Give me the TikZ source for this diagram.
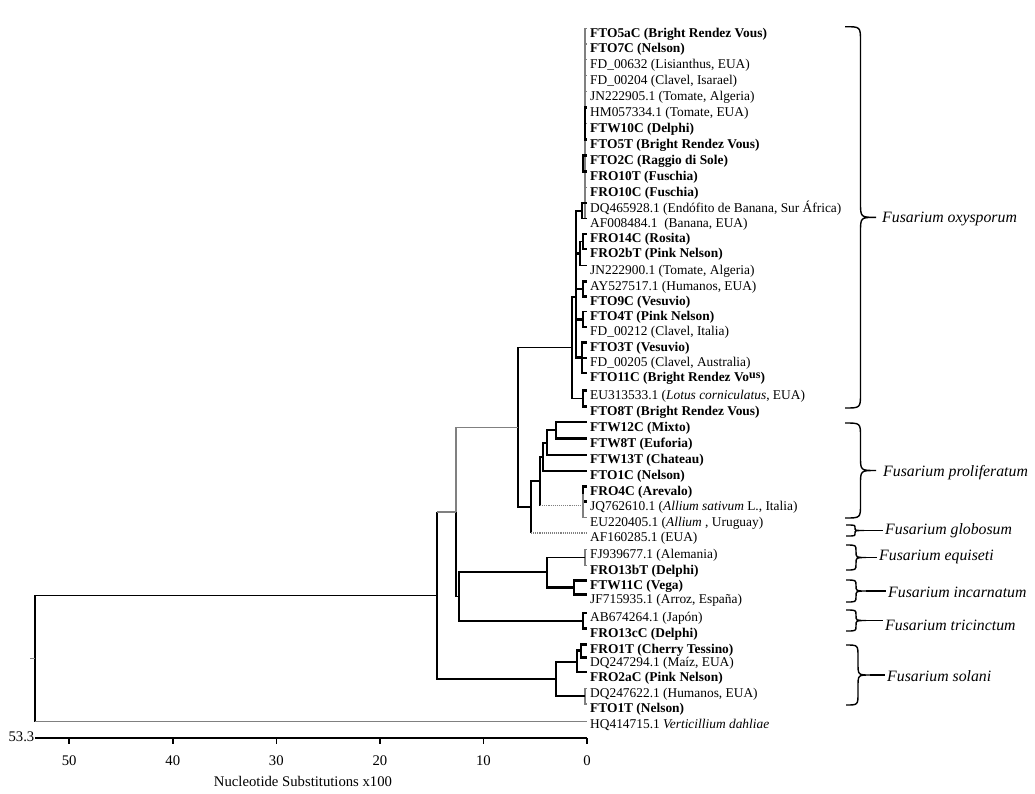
\documentclass[tikz,border=0pt]{standalone}
\usepackage{fontspec}
\setmainfont{Liberation Serif}
\newcommand\myleaf[4][8.8]{\coordinate (L#2) at (587,#3); \node[lab] (T#2) at (590,{#3+#1}) {#4};}
\newcommand\mybrace[6]{%
 \draw[brc] (#2,#3) .. controls ({#2+#5/2},#3) .. ({#2+#5/2},{#3+#6}) -- ({#2+#5/2},{(#3+#4)/2-#6}) .. controls ({#2+#5/2},{(#3+#4)/2}) .. ({#2+#5},{(#3+#4)/2}) .. controls ({#2+#5/2},{(#3+#4)/2}) .. ({#2+#5/2},{(#3+#4)/2+#6}) -- ({#2+#5/2},{#4-#6}) .. controls ({#2+#5/2},#4) .. (#2,#4);
 \coordinate (#1) at ({#2+#5},{(#3+#4)/2});}
\tikzset{
 lab/.style={font=\fontsize{13.4}{14}\selectfont, inner sep=0pt, anchor=base west},
 spl/.style={font=\fontsize{15.8}{18}\selectfont\itshape, inner xsep=2pt, inner ysep=0pt, anchor=west},
 axl/.style={font=\fontsize{14.7}{16}\selectfont, inner sep=0pt},
 br/.style={line width=1.9pt, black},
 nb/.style={line width=1.2pt, black},
 thk/.style={line width=2.8pt, black},
 thn/.style={line width=1.1pt, gray},
 gbr/.style={line width=1.8pt, gray},
 dt/.style={line width=1.1pt, gray, densely dotted},
 brc/.style={line width=1.4pt, black},
}
\begin{document}
\begin{tikzpicture}[x=1pt,y=-1pt]
\useasboundingbox (0,0) rectangle (1035,793);
% leaves
\myleaf{1}{28.4}{\textbf{FTO5aC (Bright Rendez Vous)}}
\myleaf{2}{44}{\textbf{FTO7C (Nelson)}}
\myleaf{3}{59.5}{FD\_00632 (Lisianthus, EUA)}
\myleaf{4}{75.5}{FD\_00204 (Clavel, Isarael)}
\myleaf{5}{91.5}{JN222905.1 (Tomate, Algeria)}
\myleaf{6}{107.4}{HM057334.1 (Tomate, EUA)}
\myleaf{7}{123.4}{\textbf{FTW10C (Delphi)}}
\myleaf{8}{139.5}{\textbf{FTO5T (Bright Rendez Vous)}}
\myleaf{9}{155.3}{\textbf{FTO2C (Raggio di Sole)}}
\myleaf{10}{171.3}{\textbf{FRO10T (Fuschia)}}
\myleaf{11}{187.2}{\textbf{FRO10C (Fuschia)}}
\myleaf{12}{203.2}{DQ465928.1 (Endófito de Banana, Sur África)}
\myleaf{13}{218.5}{AF008484.1\ \ (Banana, EUA)}
\myleaf{14}{234}{\textbf{FRO14C (Rosita)}}
\myleaf{15}{249}{\textbf{FRO2bT (Pink Nelson)}}
\myleaf{16}{265.5}{JN222900.1 (Tomate, Algeria)}
\myleaf{17}{281.5}{AY527517.1 (Humanos, EUA)}
\myleaf{18}{296.4}{\textbf{FTO9C (Vesuvio)}}
\myleaf{19}{311.5}{\textbf{FTO4T (Pink Nelson)}}
\myleaf{20}{326.7}{FD\_00212 (Clavel, Italia)}
\myleaf{21}{342.4}{\textbf{FTO3T (Vesuvio)}}
\myleaf{22}{358}{FD\_00205 (Clavel, Australia)}
\myleaf{23}{373}{\textbf{FTO11C (Bright Rendez Vo\raisebox{3pt}{\fontsize{12}{12}\selectfont us})}}
\myleaf{24}{390.2}{EU313533.1 (\textit{Lotus corniculatus}, EUA)}
\myleaf{25}{406.7}{\textbf{FTO8T (Bright Rendez Vous)}}
\myleaf{26}{422.4}{\textbf{FTW12C (Mixto)}}
\myleaf{27}{438.4}{\textbf{FTW8T (Euforia)}}
\myleaf{28}{454.7}{\textbf{FTW13T (Chateau)}}
\myleaf{29}{470.7}{\textbf{FTO1C (Nelson)}}
\myleaf{30}{486.4}{\textbf{FRO4C (Arevalo)}}
\myleaf{31}{501.7}{JQ762610.1 (\textit{Allium sativum} L., Italia)}
\myleaf{32}{517.4}{EU220405.1 (\textit{Allium} , Uruguay)}
\myleaf{33}{533}{AF160285.1 (EUA)}
\myleaf{34}{549.7}{FJ939677.1 (Alemania)}
\myleaf{35}{565.2}{\textbf{FRO13bT (Delphi)}}
\myleaf{36}{580.4}{\textbf{FTW11C (Vega)}}
\myleaf{37}{594.2}{JF715935.1 (Arroz, España)}
\myleaf{38}{613}{AB674264.1 (Japón)}
\myleaf{39}{628.2}{\textbf{FRO13cC (Delphi)}}
\myleaf{40}{644.2}{\textbf{FRO1T (Cherry Tessino)}}
\myleaf{41}{657.4}{DQ247294.1 (Maíz, EUA)}
\myleaf{42}{672.4}{\textbf{FRO2aC (Pink Nelson)}}
\myleaf{43}{688.7}{DQ247622.1 (Humanos, EUA)}
\myleaf{44}{704}{\textbf{FTO1T (Nelson)}}
\myleaf[7]{45}{721.5}{HQ414715.1 \textit{Verticillium dahliae}}
% oxysporum clade
\coordinate (nT) at (585,115);
\foreach \k in {1,...,13} \draw[thn] (nT) |- (L\k);
\coordinate (nT6) at (585,123.4); \draw[thk] (nT6) |- (L6) (nT6) |- (L8);
\coordinate (nT9) at (583,163.3); \draw[thk] (nT9) |- (L9) (nT9) |- (L10);
\coordinate (nU) at (582,210.85); \draw[br] (nU) |- (L12) (nU) |- (L13);
\coordinate (nV1) at (583,241.5); \draw[thk] (nV1) |- (L14) (nV1) |- (L15);
\coordinate (nV) at (580,253.5); \draw[br] (nV) |- (nV1) (nV) |- (L16);
\coordinate (nW) at (583,289); \draw[thk] (nW) |- (L17) (nW) |- (L18);
\coordinate (nZ0) at (583,319.1); \draw[br] (nZ0) |- (L19) (nZ0) |- (L20);
\coordinate (nZ1) at (582,357.7); \draw[thk] (nZ1) |- (L21) (nZ1) |- (L23); \draw[br] (nZ1) |- (L22);
\coordinate (nO2) at (576,297);
\draw[thk] (nO2) |- (nV) (nO2) |- (nW) (nO2) |- (nZ0) (nO2) |- (nZ1);
\draw[br] (nO2) |- (nU);
\coordinate (nQ) at (583,398.45); \draw[thk] (nQ) |- (L24) (nQ) |- (L25);
\coordinate (nO1) at (572,347.7); \draw[nb] (nO1) |- (nO2) (nO1) |- (nQ);
% proliferatum / globosum
\coordinate (nA) at (556,430.4); \draw[br] (nA) |- (L26); \draw[thk] (nA) |- (L27);
\coordinate (nB) at (547,442.55); \draw[br] (nB) |- (nA) (nB) |- (L28);
\coordinate (nC) at (543,456.6); \draw[br] (nC) |- (nB) (nC) |- (L29);
\coordinate (nP1) at (583,494.05); \draw[thk] (nP1) |- (L30) (nP1) |- (L31);
\coordinate (nP2) at (583,505.7); \draw[thn] (nP2) |- (nP1) (nP2) |- (L32);
\coordinate (nD) at (540,481.2); \draw[br] (nD) |- (nC) (nD) -- (nD |- nP2); \draw[dt] (nD |- nP2) -- (nP2);
\coordinate (nE) at (531,507.1); \draw[br] (nE) |- (nD) (nE) -- (nE |- L33); \draw[dt] (nE |- L33) -- (L33);
\coordinate (nF) at (518,427.4); \draw[nb] (nF) |- (nO1); \draw[br] (nF) |- (nE);
% equiseti, incarnatum, tricinctum
\coordinate (nX) at (585,557.45); \draw[thn] (nX) |- (L34) (nX) |- (L35);
\coordinate (nJ) at (574,587.3); \draw[thk] (nJ) |- (L36) (nJ) |- (L37);
\coordinate (nI) at (547,572.4); \draw[br] (nI) |- (nX); \draw[thk] (nI) |- (nJ);
\coordinate (nR) at (583,620.6); \draw[thk] (nR) |- (L38) (nR) |- (L39);
\coordinate (nH) at (459,596.5); \draw[br] (nH) |- (nI) (nH) |- (nR);
\coordinate (nG) at (456,512); \draw[gbr] (nG) |- (nF); \draw[br] (nG) |- (nH);
% solani
\coordinate (nM1) at (581,650.8); \draw[thk] (nM1) |- (L40) (nM1) |- (L41);
\coordinate (nM) at (577,661.6); \draw[thk] (nM) |- (nM1); \draw[br] (nM) |- (L42);
\coordinate (nN) at (585,696.35); \draw[thn] (nN) |- (L43) (nN) |- (L44);
\coordinate (nL) at (556,679); \draw[br] (nL) |- (nM) (nL) |- (nN);
\coordinate (nK) at (437,595.5); \draw[br] (nK) -- (nK |- nG); \draw[gbr] (nK |- nG) -- (nG); \draw[br] (nK) |- (nL);
% root
\coordinate (nRoot) at (35,658.5); \coordinate (rs) at (30,658.5);
\draw[br] (nRoot) |- (nK); \draw[br] (nRoot) -- (nRoot |- L45);
\draw[line width=1.4pt, gray] (nRoot |- L45) -- (L45);
\draw[thn] (rs) -- (nRoot);
% axis
\coordinate (ax0) at (35,738); \coordinate (ax1) at (587,738);
\draw[line width=2.2pt] (ax0) -- (ax1);
\foreach \v in {0,10,20,30,40,50} {
  \pgfmathsetmacro\xx{587-10.356*\v}
  \coordinate (tk\v) at (\xx,738);
  \draw[line width=1.6pt] (tk\v) -- ++(0,6);
  \node[axl] (tl\v) at (\xx,761) {\v};
}
\node[axl, anchor=east] (s533) at (34.5,737) {53.3};
\node[axl] (xt) at (303,781) {Nucleotide Substitutions x100};
% braces
\mybrace{bOxy}{845}{26.7}{408}{31}{15}
\mybrace{bPro}{845}{423}{518}{31}{14}
\mybrace{bGlo}{846}{525}{536}{18}{2.7}
\mybrace{bEqu}{846}{545}{570}{20}{6}
\mybrace{bInc}{846}{580}{602}{20}{5.5}
\mybrace{bTri}{846}{610}{631}{20}{5}
\mybrace{bSol}{846}{645}{705}{24}{12}
\node[spl] (sOxy) at (880,219) {Fusarium oxysporum};
\node[spl] (sPro) at (881,473) {Fusarium proliferatum};
\node[spl] (sGlo) at (883,531) {Fusarium globosum};
\node[spl] (sEqu) at (877,557) {Fusarium equiseti};
\node[spl] (sInc) at (886,592) {Fusarium incarnatum};
\node[spl] (sTri) at (883,625) {Fusarium tricinctum};
\node[spl] (sSol) at (885,676) {Fusarium solani};
\draw[brc] (bGlo) -- (bGlo -| sGlo.west);
\draw[brc] (bEqu) -- (bEqu -| sEqu.west);
\draw[brc] (bInc) -- (bInc -| sInc.west);
\draw[brc] (bTri) -- (bTri -| sTri.west);
\draw[brc] (bSol) -- (bSol -| sSol.west);
\end{tikzpicture}
\end{document}
